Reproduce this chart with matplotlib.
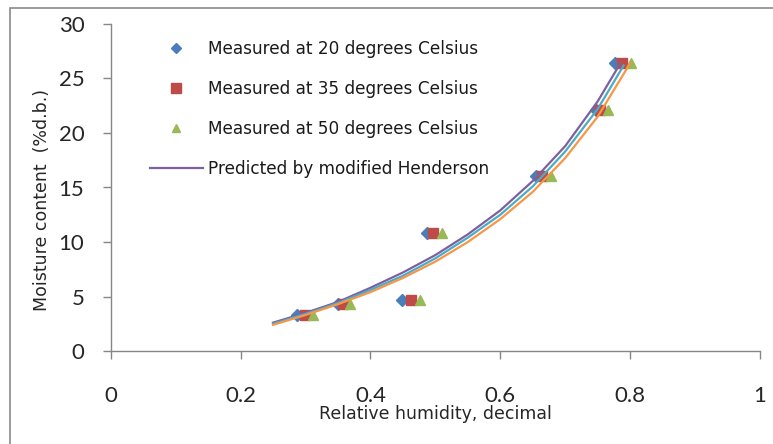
import matplotlib
matplotlib.use("Agg")
import matplotlib.pyplot as plt
from matplotlib.lines import Line2D
from matplotlib.patches import Rectangle

# measured moisture content (% d.b.) against relative humidity
rh_20 = [0.287, 0.350, 0.448, 0.487, 0.655, 0.748, 0.776]
rh_35 = [0.300, 0.357, 0.462, 0.497, 0.665, 0.754, 0.787]
rh_50 = [0.311, 0.368, 0.477, 0.511, 0.678, 0.766, 0.802]
mc_measured = [3.3, 4.3, 4.7, 10.8, 16.1, 22.1, 26.4]

# predicted curves (modified Henderson)
rh_pred_20 = [0.25, 0.30, 0.35, 0.40, 0.45, 0.50, 0.55, 0.60, 0.65, 0.70, 0.75, 0.785]
mc_pred_20 = [2.6, 3.5, 4.5, 5.8, 7.2, 8.8, 10.7, 12.9, 15.6, 18.8, 22.9, 26.4]
rh_pred_35 = [0.25, 0.30, 0.35, 0.40, 0.45, 0.50, 0.55, 0.60, 0.65, 0.70, 0.75, 0.79]
mc_pred_35 = [2.5, 3.4, 4.4, 5.6, 6.9, 8.5, 10.4, 12.5, 15.1, 18.3, 22.2, 26.2]
rh_pred_50 = [0.25, 0.30, 0.35, 0.40, 0.45, 0.50, 0.55, 0.60, 0.65, 0.70, 0.75, 0.80]
mc_pred_50 = [2.4, 3.3, 4.3, 5.4, 6.7, 8.2, 10.0, 12.1, 14.6, 17.7, 21.5, 26.4]

x_ticks = [0, 0.2, 0.4, 0.6, 0.8, 1]
x_ticklabels = ["0", "0.2", "0.4", "0.6", "0.8", "1"]
y_ticks = [0, 5, 10, 15, 20, 25, 30]

legend_labels = [
    "Measured at 20 degrees Celsius",
    "Measured at 35 degrees Celsius",
    "Measured at 50 degrees Celsius",
    "Predicted by modified Henderson",
]

W, H = 773, 444
fig = plt.figure(figsize=(W / 100, H / 100), dpi=100)
fig.patch.set_facecolor("white")

# outer chart border (only left and top edges show in the crop)
fig.patches.append(Rectangle((10 / W, -1), 2, 1 + (1 - 8 / H), transform=fig.transFigure,
                             fill=False, edgecolor="#8a8a8a", lw=1.2))

ax_l, ax_r, ax_t, ax_b = 110.7, 760, 24, 351
ax = fig.add_axes([ax_l / W, 1 - ax_b / H, (ax_r - ax_l) / W, (ax_b - ax_t) / H])

blue, red, green = "#4a7ebb", "#be4b48", "#98b954"
purple, teal, orange = "#7d60a0", "#4bacc6", "#f79646"

ax.plot(rh_20, mc_measured, "D", color=blue, ms=6.3, ls="none", zorder=3)
ax.plot(rh_35, mc_measured, "s", color=red, ms=7, ls="none", zorder=3)
ax.plot(rh_50, mc_measured, "^", color=green, ms=7.5, ls="none", zorder=3)

ax.plot(rh_pred_20, mc_pred_20, color=purple, lw=1.6, zorder=4)
ax.plot(rh_pred_35, mc_pred_35, color=teal, lw=1.6, zorder=4)
ax.plot(rh_pred_50, mc_pred_50, color=orange, lw=1.6, zorder=4)

ax.set_xlim(0, 1)
ax.set_ylim(0, 30)
ax.set_xticks(x_ticks)
ax.set_xticklabels(x_ticklabels)
ax.set_yticks(y_ticks)

for s in ["top", "right"]:
    ax.spines[s].set_visible(False)
for s in ["left", "bottom"]:
    ax.spines[s].set_color("#868686")
    ax.spines[s].set_linewidth(1.0)

ax.tick_params(axis="both", direction="out", color="#868686", length=6, width=1.0,
               labelcolor="#262626", labelsize=16, labelfontfamily="Lato")
ax.tick_params(axis="x", pad=19)
ax.tick_params(axis="y", pad=13)

ax.set_xlabel("Relative humidity, decimal", family="DejaVu Sans", fontsize=12.5,
              color="#262626", va="center")
ax.xaxis.set_label_coords(0.5, (ax_b - 414) / (ax_b - ax_t))
ax.set_ylabel("Moisture content  (%d.b.)", family="DejaVu Sans", fontsize=12.5,
              color="#262626", va="center")
ax.yaxis.set_label_coords((42 - ax_l) / (ax_r - ax_l), (ax_b - 200) / (ax_b - ax_t))

handles = [
    Line2D([], [], marker="D", color=blue, ms=5, ls="none"),
    Line2D([], [], marker="s", color=red, ms=6.5, ls="none"),
    Line2D([], [], marker="^", color=green, ms=6, ls="none"),
    Line2D([], [], color=purple, lw=1.6),
]
fig.legend(handles, legend_labels, loc="upper left",
           bbox_to_anchor=(150 / W, 1 - 40 / H), bbox_transform=fig.transFigure,
           frameon=False, borderpad=0, borderaxespad=0, handlelength=3.1,
           handletextpad=0.3, labelspacing=1.3,
           prop={"family": "DejaVu Sans", "size": 12.2}, labelcolor="#1a1a1a")

fig.savefig("out.png", dpi=100, facecolor="white")
